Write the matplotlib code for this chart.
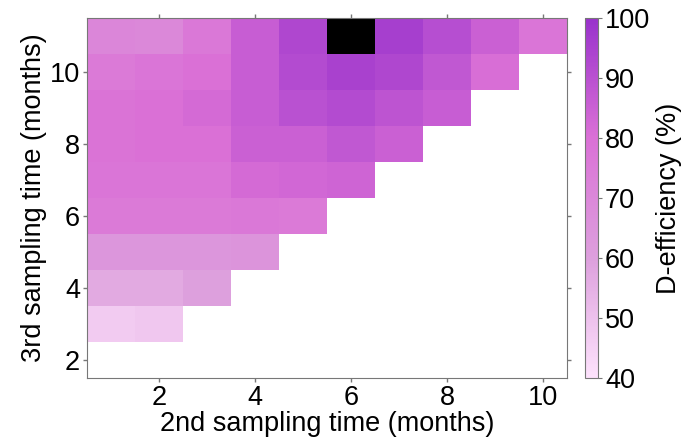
import numpy as np
import matplotlib
matplotlib.use("Agg")
import matplotlib.pyplot as plt
from matplotlib.colors import LinearSegmentedColormap, ListedColormap

plt.rcParams['font.family'] = ['Liberation Sans', 'DejaVu Sans']

# 2nd sampling time (columns) and 3rd sampling time (rows)
second_times = [1, 2, 3, 4, 5, 6, 7, 8, 9, 10]
third_times = [2, 3, 4, 5, 6, 7, 8, 9, 10, 11]

# D-efficiency (%) per row of 3rd sampling time, for 2nd time = 1..(row-1)
eff_t3_3 = [47, 48]
eff_t3_4 = [57, 57, 60]
eff_t3_5 = [64, 64, 64, 65]
eff_t3_6 = [76, 76, 76, 77, 76]
eff_t3_7 = [78, 78, 78, 82, 83, 84]
eff_t3_8 = [79, 80, 80, 85, 85, 88, 85]
eff_t3_9 = [79, 80, 82, 86, 90, 92, 89, 86]
eff_t3_10 = [76, 78, 80, 86, 92, 95, 93, 88, 81]
eff_t3_11 = [71, 70, 77, 86, 93, 100, 96, 91, 85, 78]

rows = [[], eff_t3_3, eff_t3_4, eff_t3_5, eff_t3_6, eff_t3_7,
        eff_t3_8, eff_t3_9, eff_t3_10, eff_t3_11]

Z = np.full((len(third_times), len(second_times)), np.nan)
for i, r in enumerate(rows):
    Z[i, :len(r)] = r
Zm = np.ma.masked_invalid(Z)

cmap = LinearSegmentedColormap.from_list(
    "deff", [(0.0, "#fde2fc"), (0.33, "#dda0dd"), (0.67, "#da70d6"), (1.0, "#9932cc")])

fs = 19.5
fig = plt.figure(figsize=(6.85, 4.48), dpi=100)
ax = fig.add_axes([0.127, 0.156, 0.701, 0.804])
cax = fig.add_axes([0.854, 0.156, 0.019, 0.804])

mesh = ax.pcolormesh(second_times, third_times, Zm, cmap=cmap, vmin=40, vmax=100,
                     shading='nearest')

# optimum cell in black
best = np.unravel_index(np.nanargmax(Z), Z.shape)
opt = np.ma.masked_all(Z.shape)
opt[best] = 1
ax.pcolormesh(second_times, third_times, opt, cmap=ListedColormap(['black']),
              shading='nearest')

ax.set_xlim(0.5, 10.5)
ax.set_ylim(1.5, 11.5)
ax.set_xticks([2, 4, 6, 8, 10])
ax.set_yticks([2, 4, 6, 8, 10])
ax.tick_params(direction='out', top=True, right=True, labelsize=fs, length=3,
               color='#777777', width=1, pad=2)
for s in ax.spines.values():
    s.set_color('#777777')
ax.set_xlabel('2nd sampling time (months)', fontsize=fs, labelpad=0)
ax.set_ylabel('3rd sampling time (months)', fontsize=fs, labelpad=2)

cb = fig.colorbar(mesh, cax=cax)
cb.set_ticks([40, 50, 60, 70, 80, 90, 100])
cb.ax.tick_params(labelsize=fs, length=3, color='#777777', pad=2)
cb.outline.set_edgecolor('#777777')
cb.set_label('D-efficiency (%)', fontsize=fs, labelpad=4)

fig.savefig('out.png', dpi=100)
